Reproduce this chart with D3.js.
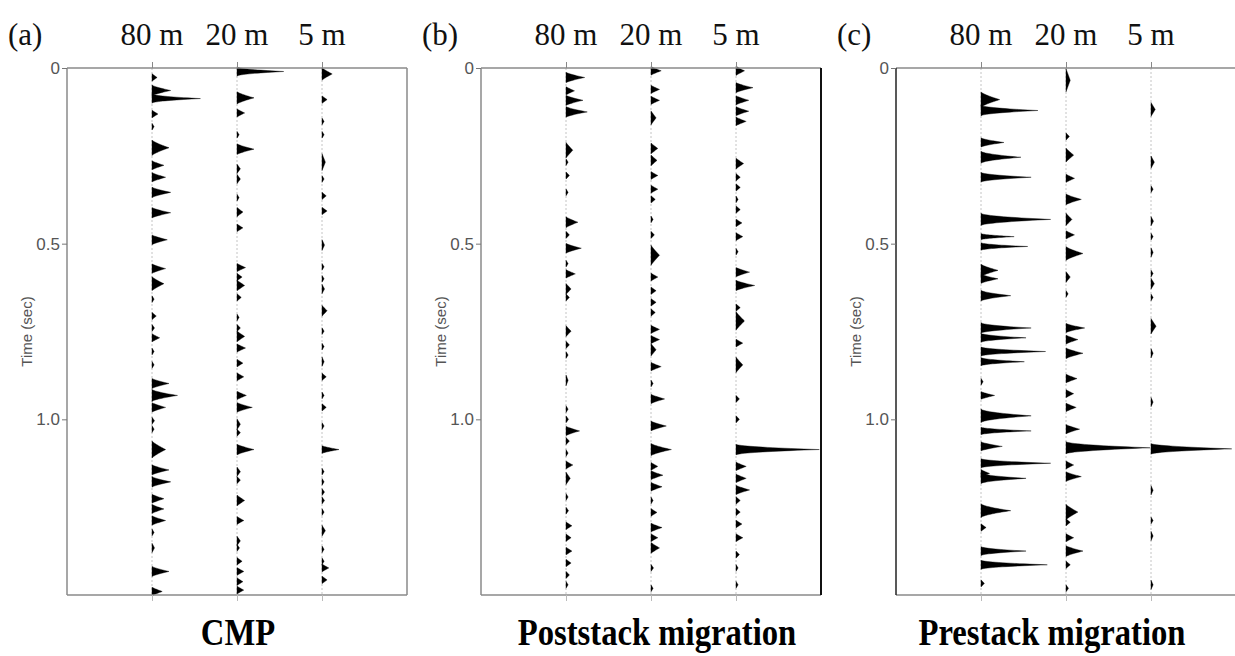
<!DOCTYPE html>
<html>
<head>
<meta charset="utf-8">
<script src="https://cdn.jsdelivr.net/npm/d3@7/dist/d3.min.js"></script>
<style>
  html, body { margin: 0; padding: 0; background: #ffffff; }
  svg { display: block; }
</style>
</head>
<body>
<svg id="chart" width="1235" height="656"></svg>
<script>
// ---------------- DATA ----------------
const panelLetters = ["(a)", "(b)", "(c)"];
const panelTitles = ["CMP", "Poststack migration", "Prestack migration"];
const traceLabels = ["80 m", "20 m", "5 m"];
const timeTicks = [0, 0.5, 1.0];
const timeTickLabels = ["0", "0.5", "1.0"];
const timeLabel = "Time (sec)";

// events: [time (s), amplitude (in trace spacings), optional half-duration (s)]
const cmp80 = [[0.027,0.06],[0.064,0.22,0.014],[0.087,0.57,0.012],[0.131,0.07],[0.167,0.02],[0.227,0.2,0.02],
  [0.277,0.14],[0.311,0.16],[0.354,0.22],[0.412,0.22],[0.489,0.18],[0.571,0.16],[0.614,0.14,0.018],[0.658,0.02],
  [0.706,0.05],[0.740,0.03],[0.768,0.09],[0.807,0.02],[0.845,0.02],[0.898,0.2],[0.932,0.3],[0.966,0.16],
  [1.004,0.03],[1.028,0.02],[1.086,0.16,0.022],[1.144,0.2],[1.178,0.22],[1.226,0.14],[1.255,0.14],[1.288,0.16],
  [1.322,0.02],[1.366,0.03,0.012],[1.433,0.2],[1.490,0.12]];
const cmp20 = [[0.010,0.55,0.012],[0.085,0.2,0.016],[0.128,0.09],[0.190,0.02],[0.231,0.2,0.014],[0.287,0.04,0.012],
  [0.316,0.04,0.012],[0.369,0.02],[0.410,0.07,0.012],[0.455,0.07],[0.568,0.1],[0.595,0.06],[0.619,0.09,0.014],
  [0.653,0.05],[0.710,0.02],[0.740,0.04],[0.764,0.09,0.014],[0.797,0.1],[0.840,0.07],[0.879,0.08],[0.932,0.11],
  [0.966,0.18],[1.014,0.04,0.014],[1.038,0.04],[1.086,0.2,0.014],[1.149,0.04,0.012],[1.173,0.04],[1.231,0.09,0.014],
  [1.288,0.08],[1.346,0.04,0.012],[1.366,0.03],[1.404,0.06],[1.433,0.08],[1.462,0.07],[1.486,0.08]];
const cmp5 = [[0.017,0.12,0.016],[0.090,0.06],[0.152,0.02],[0.190,0.02],[0.268,0.04,0.022],[0.316,0.02],[0.364,0.05],
  [0.407,0.06],[0.504,0.03,0.014],[0.566,0.02],[0.600,0.02],[0.629,0.03,0.012],[0.691,0.06,0.014],[0.749,0.02],
  [0.793,0.02],[0.836,0.02,0.012],[0.879,0.05],[0.932,0.02],[0.966,0.05],[1.019,0.02],[1.086,0.2,0.01],
  [1.149,0.02],[1.178,0.02],[1.207,0.03],[1.231,0.03],[1.264,0.02],[1.317,0.04,0.014],[1.370,0.02],[1.404,0.02],
  [1.423,0.08],[1.457,0.06]];

const post80 = [[0.027,0.22],[0.065,0.1],[0.092,0.2],[0.125,0.25,0.014],[0.234,0.08,0.02],[0.268,0.02],[0.306,0.04],
  [0.354,0.02],[0.439,0.14,0.014],[0.475,0.04],[0.513,0.18],[0.557,0.02],[0.586,0.11],[0.629,0.06,0.014],[0.653,0.04],
  [0.749,0.06,0.014],[0.788,0.04],[0.817,0.02],[0.889,0.02,0.014],[0.971,0.02],[1.000,0.03],[1.033,0.16],[1.062,0.04],
  [1.096,0.02],[1.130,0.08],[1.168,0.05,0.016],[1.221,0.02],[1.260,0.03],[1.303,0.07],[1.337,0.06],[1.375,0.07],
  [1.409,0.06],[1.443,0.04],[1.471,0.02]];
const post20 = [[0.008,0.12],[0.061,0.1],[0.092,0.1],[0.142,0.06,0.018],[0.229,0.08,0.014],[0.263,0.07,0.014],[0.306,0.08],
  [0.345,0.08],[0.374,0.05],[0.431,0.02],[0.475,0.04],[0.533,0.1,0.026],[0.595,0.08],[0.634,0.06],[0.667,0.06],
  [0.696,0.05],[0.744,0.1],[0.773,0.1],[0.802,0.06,0.016],[0.850,0.12],[0.898,0.02],[0.942,0.16],[1.019,0.18],
  [1.086,0.24,0.016],[1.134,0.08],[1.159,0.14],[1.192,0.13],[1.231,0.02],[1.265,0.07],[1.308,0.13],[1.337,0.08],
  [1.366,0.1,0.014],[1.423,0.03],[1.481,0.02]];
const post5 = [[0.008,0.1,0.012],[0.056,0.2],[0.092,0.15],[0.123,0.15],[0.152,0.12],[0.272,0.09,0.014],[0.311,0.05],
  [0.340,0.05],[0.374,0.02],[0.403,0.05],[0.441,0.07],[0.480,0.08],[0.523,0.02],[0.581,0.16],[0.619,0.22],
  [0.682,0.05],[0.720,0.1,0.024],[0.783,0.08],[0.845,0.08,0.02],[0.942,0.04],[1.000,0.04],[1.086,0.98,0.014],
  [1.134,0.12],[1.168,0.12],[1.201,0.16],[1.231,0.05],[1.264,0.05],[1.298,0.07],[1.337,0.08],[1.385,0.04],
  [1.423,0.02],[1.471,0.02]];

const pre80 = [[0.090,0.22,0.02],[0.121,0.67,0.014],[0.212,0.27,0.012],[0.254,0.47,0.016],[0.311,0.59,0.013],
  [0.431,0.82,0.016],[0.480,0.39,0.008],[0.508,0.55,0.01],[0.576,0.2,0.016],[0.600,0.2,0.012],[0.648,0.35,0.014],
  [0.740,0.59,0.014],[0.768,0.53,0.012],[0.807,0.76,0.012],[0.836,0.51,0.011],[0.893,0.02],[0.932,0.16,0.01],
  [0.990,0.59,0.018],[1.033,0.59,0.01],[1.077,0.25,0.012],[1.125,0.82,0.012],[1.154,0.1,0.01],[1.168,0.53,0.014],
  [1.260,0.35,0.018],[1.308,0.06],[1.375,0.53,0.012],[1.414,0.78,0.012],[1.467,0.04]];
const pre20 = [[0.035,0.05,0.03],[0.195,0.04],[0.248,0.09,0.018],[0.314,0.1],[0.374,0.18,0.014],[0.431,0.07,0.016],
  [0.475,0.1],[0.528,0.2,0.018],[0.595,0.05,0.014],[0.643,0.02],[0.740,0.22,0.012],[0.773,0.14],[0.812,0.2,0.014],
  [0.884,0.13],[0.927,0.09],[0.966,0.12],[1.028,0.16],[1.081,0.99,0.016],[1.130,0.09],[1.163,0.18],[1.264,0.14,0.02],
  [1.293,0.05],[1.337,0.09],[1.375,0.2,0.014],[1.414,0.05],[1.481,0.03]];
const pre5 = [[0.118,0.05,0.018],[0.268,0.04,0.016],[0.345,0.02],[0.436,0.03,0.012],[0.480,0.02],[0.525,0.02,0.012],
  [0.585,0.02],[0.614,0.04,0.014],[0.653,0.02],[0.735,0.06,0.02],[0.812,0.02,0.012],[0.951,0.02,0.012],
  [1.084,0.95,0.014],[1.202,0.02,0.012],[1.288,0.02],[1.332,0.02,0.012],[1.471,0.02,0.012]];

const panelTraces = [[cmp80, cmp20, cmp5], [post80, post20, post5], [pre80, pre20, pre5]];

// ---------------- LAYOUT ----------------
const W = 1235, H = 656;
const panelLeft = [67, 481, 896];
const panelWidth = 340;
const plotTop = 68, plotBottom = 595;
const titleX = [238, 657, 1052];
const borderColors = [["#8a8a8a", "#8a8a8a"], ["#8a8a8a", "#111"], ["#222", "#8a8a8a"]];

const svg = d3.select("#chart");
svg.append("rect").attr("width", W).attr("height", H).attr("fill", "#fff");

const y = d3.scaleLinear().domain([0, 1.5]).range([plotTop, plotBottom]);

function lobePoints(ev, traceIdx, x) {
  const t = ev[0], a = ev[1];
  const h = ev.length > 2 ? ev[2] * 1.1 : (0.009 + 0.011 * Math.min(a, 0.4) / 0.4);
  const p = 0.9 + Math.min(a, 0.5) * 2.0;
  const amp = Math.max(a, 0.025);
  const pts = [];
  for (let i = 0; i <= 40; i++) {
    const s = -1 + i / 20;
    const f = Math.pow(1 - Math.abs(s), p);
    pts.push([x(traceIdx + amp * f), y(t + s * h)]);
  }
  return pts;
}

panelTraces.forEach((traces, pi) => {
  const left = panelLeft[pi];
  const x = d3.scaleLinear().domain([0, 4]).range([left, left + panelWidth]);
  const g = svg.append("g");

  // traces baselines (faint wiggle)
  traces.forEach((events, ti) => {
    const idx = ti + 1;
    g.append("line")
      .attr("x1", x(idx)).attr("x2", x(idx))
      .attr("y1", y(0)).attr("y2", y(1.5))
      .attr("stroke", "#c4c4c4").attr("stroke-width", 1)
      .attr("stroke-dasharray", "2,2");
    const line = d3.line().curve(d3.curveLinear);
    g.selectAll(null).data(events).enter().append("path")
      .attr("d", ev => line(lobePoints(ev, idx, x)) + "Z")
      .attr("fill", "#000").attr("stroke", "#000").attr("stroke-width", 0.4);
  });

  // frame
  const [lc, rc] = borderColors[pi];
  g.append("line").attr("x1", left).attr("x2", left + panelWidth).attr("y1", plotTop).attr("y2", plotTop)
    .attr("stroke", "#8a8a8a").attr("stroke-width", 1.5);
  g.append("line").attr("x1", left).attr("x2", left + panelWidth).attr("y1", plotBottom).attr("y2", plotBottom)
    .attr("stroke", "#8a8a8a").attr("stroke-width", 1.5);
  g.append("line").attr("x1", left).attr("x2", left).attr("y1", plotTop).attr("y2", plotBottom)
    .attr("stroke", lc).attr("stroke-width", 1.5);
  g.append("line").attr("x1", left + panelWidth).attr("x2", left + panelWidth).attr("y1", plotTop).attr("y2", plotBottom)
    .attr("stroke", rc).attr("stroke-width", pi === 1 ? 2 : 1.5);

  // y axis
  const yAxis = d3.axisLeft(y).tickValues(timeTicks).tickFormat((d, i) => timeTickLabels[i])
    .tickSize(5).tickPadding(2);
  const ya = g.append("g").attr("transform", `translate(${left},0)`).call(yAxis);
  ya.select(".domain").remove();
  ya.selectAll(".tick line").attr("stroke", "#777");
  ya.selectAll(".tick text").attr("font-family", "Liberation Sans, Arial, sans-serif")
    .attr("font-size", 17).attr("fill", "#555");

  // top & bottom trace ticks
  const xTop = d3.axisTop(x).tickValues([1, 2, 3]).tickSize(6).tickFormat("");
  const xt = g.append("g").attr("transform", `translate(0,${plotTop})`).call(xTop);
  xt.select(".domain").remove();
  xt.selectAll(".tick line").attr("stroke", "#888");
  const xBot = d3.axisBottom(x).tickValues([1, 2, 3]).tickSize(6).tickFormat("");
  const xb = g.append("g").attr("transform", `translate(0,${plotBottom})`).call(xBot);
  xb.select(".domain").remove();
  xb.selectAll(".tick line").attr("stroke", "#bbb");

  // y label
  g.append("text")
    .attr("transform", `translate(${left - 35},${y(0.75)}) rotate(-90)`)
    .attr("text-anchor", "middle")
    .attr("font-family", "Liberation Sans, Arial, sans-serif")
    .attr("font-size", 15).attr("fill", "#555")
    .text(timeLabel);

  // letters and trace labels
  g.append("text").attr("x", left - 59).attr("y", 45)
    .attr("font-family", "Liberation Serif, Times New Roman, serif")
    .attr("font-size", 31).attr("fill", "#111").text(panelLetters[pi]);
  traceLabels.forEach((lab, ti) => {
    g.append("text").attr("x", x(ti + 1)).attr("y", 45)
      .attr("text-anchor", "middle")
      .attr("font-family", "Liberation Serif, Times New Roman, serif")
      .attr("font-size", 31).attr("fill", "#111").text(lab);
  });

  // bottom title (condensed bold serif)
  g.append("text")
    .attr("transform", `translate(${titleX[pi]},645) scale(0.86,1)`)
    .attr("text-anchor", "middle")
    .attr("font-family", "Liberation Serif, Times New Roman, serif")
    .attr("font-weight", "bold")
    .attr("font-size", 38).attr("fill", "#000").text(panelTitles[pi]);
});
</script>
</body>
</html>
